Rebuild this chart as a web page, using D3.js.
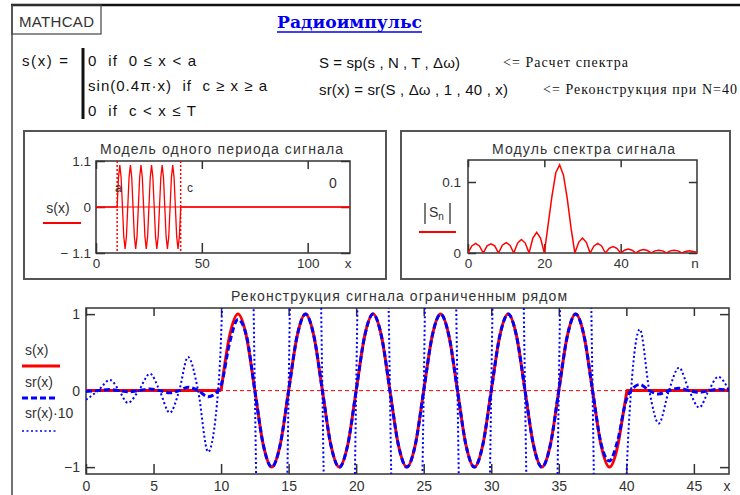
<!DOCTYPE html>
<html>
<head>
<meta charset="utf-8">
<script src="https://cdn.jsdelivr.net/npm/d3@7"></script>
<style>
  body { margin: 0; background: #fff; }
  text { font-family: "Liberation Sans", Arial, sans-serif; fill: #333; white-space: pre; }
</style>
</head>
<body>
<div id="chart"></div>
<script>
// ---- data ----
// s(x): flat lead, sampled pulse (x = 10 .. 39.375), tail
const sLeadX = [0, 10];
const sLeadY = [0, 0];
const pulseX = [10, 10.625, 11.25, 11.875, 12.5, 13.125, 13.75, 14.375,
  15, 15.625, 16.25, 16.875, 17.5, 18.125, 18.75, 19.375,
  20, 20.625, 21.25, 21.875, 22.5, 23.125, 23.75, 24.375,
  25, 25.625, 26.25, 26.875, 27.5, 28.125, 28.75, 29.375,
  30, 30.625, 31.25, 31.875, 32.5, 33.125, 33.75, 34.375,
  35, 35.625, 36.25, 36.875, 37.5, 38.125, 38.75, 39.375];
const sPulse = [0, 0.71, 1, 0.71, 0, -0.71, -1, -0.71,
  0, 0.71, 1, 0.71, 0, -0.71, -1, -0.71,
  0, 0.71, 1, 0.71, 0, -0.71, -1, -0.71,
  0, 0.71, 1, 0.71, 0, -0.71, -1, -0.71,
  0, 0.71, 1, 0.71, 0, -0.71, -1, -0.71,
  0, 0.71, 1, 0.71, 0, -0.71, -1, -0.71];
const sTailX = [39.375, 39.7, 40.05, 120];
const sTailY = [-0.71, -0.37, 0, 0];

// sr(x): reconstruction with N = 40
const srLeftX = [0, 0.9, 1.78, 2.45, 3.1, 3.9, 4.74, 5.45, 6.2, 6.9, 7.55, 8.3, 9.04, 9.78];
const srLeftY = [-0.012, 0, 0.014, 0, -0.016, 0, 0.022, 0, -0.029, 0, 0.044, 0, -0.08, 0];
const srPulse = [0.07, 0.62, 0.93, 0.72, 0, -0.71, -1, -0.71,
  0, 0.71, 1, 0.71, 0, -0.71, -1, -0.71,
  0, 0.71, 1, 0.71, 0, -0.71, -1, -0.71,
  0, 0.71, 1, 0.71, 0, -0.71, -1, -0.71,
  0, 0.71, 1, 0.71, 0, -0.71, -1, -0.71,
  0, 0.71, 1, 0.71, 0, -0.69, -0.92, -0.64];
const srRightX = [40.0, 40.35, 41.0, 41.7, 42.4, 43.15, 43.9, 44.65, 45.4, 46.1, 46.8, 47.6];
const srRightY = [-0.12, 0, 0.08, 0, -0.043, 0, 0.03, 0, -0.022, 0, 0.018, 0];
const srScale = 10;

// |S_n|, n = 0..60
const specN = d3.range(0, 61);
const specVal = [0,
  0.010, 0.0135, 0.010, 0,
  0.010, 0.013, 0.010, 0,
  0.011, 0.0145, 0.011, 0,
  0.014, 0.019, 0.014, 0,
  0.021, 0.029, 0.021, 0,
  0.040, 0.080, 0.113, 0.124, 0.110, 0.077, 0.035, 0,
  0.015, 0.021, 0.015, 0,
  0.010, 0.0135, 0.010, 0,
  0.0065, 0.009, 0.0065, 0,
  0.004, 0.0055, 0.004, 0,
  0.0035, 0.005, 0.0035, 0,
  0.003, 0.004, 0.003, 0,
  0.003, 0.004, 0.003, 0,
  0.002, 0.003, 0.002, 0.001];

// markers
const markA = 10, markC = 40;

// ticks
const modelXTicks = [0, 50, 100];
const modelYTicks = [-1.1, 0, 1.1];
const specXTicks = [0, 20, 40];
const specYTicks = [0, 0.1];
const recXTicks = [0, 5, 10, 15, 20, 25, 30, 35, 40, 45];
const recYTicks = [-1, 0, 1];

// ---- drawing ----
const svg = d3.select("#chart").append("svg")
  .attr("width", 740).attr("height", 495);

const zip = (xs, ys) => xs.map((x, i) => [x, ys[i]]);

// page frame
svg.append("line").attr("x1", 11).attr("x2", 740).attr("y1", 5).attr("y2", 5)
  .attr("stroke", "#111").attr("stroke-width", 2.5);
svg.append("line").attr("x1", 12).attr("x2", 12).attr("y1", 5).attr("y2", 495)
  .attr("stroke", "#444").attr("stroke-width", 1.5);
svg.append("rect").attr("x", 12).attr("y", 5).attr("width", 89).attr("height", 29)
  .attr("fill", "none").attr("stroke", "#444").attr("stroke-width", 1.2);
svg.append("text").attr("x", 19).attr("y", 27).attr("font-size", 15)
  .attr("textLength", 75).attr("fill", "#222").text("MATHCAD");

// title
svg.append("text").attr("x", 277).attr("y", 28)
  .style("font-family", "'DejaVu Serif', 'Liberation Serif', serif")
  .attr("font-weight", "bold").attr("font-size", 17).style("fill", "#0000ee")
  .attr("textLength", 145).attr("lengthAdjust", "spacingAndGlyphs").text("Радиоимпульс");
svg.append("line").attr("x1", 277).attr("x2", 422).attr("y1", 32).attr("y2", 32)
  .attr("stroke", "#0000ee").attr("stroke-width", 1.5);

// formulas
const formula = (x, y, t, len, serif) => {
  const el = svg.append("text").attr("x", x).attr("y", y).style("fill", "#111")
    .attr("font-size", serif ? 14 : 15).attr("textLength", len).text(t);
  if (serif) el.style("font-family", "'Liberation Serif', 'Times New Roman', serif");
  return el;
};
formula(22, 66, "s(x) =", 46);
svg.append("line").attr("x1", 83).attr("x2", 83).attr("y1", 48).attr("y2", 119)
  .attr("stroke", "#111").attr("stroke-width", 3);
formula(88, 66, "0  if  0 ≤ x < a", 108);
formula(88, 91, "sin(0.4π·x)  if  c ≥ x ≥ a", 179);
formula(88, 116, "0  if  c < x ≤ T", 108);
formula(319, 68, "S = sp(s , N , T , Δω)", 141);
formula(319, 95, "sr(x) = sr(S , Δω , 1 , 40 , x)", 189);
formula(503, 67, "<= Расчет спектра", 125, true);
formula(543, 94, "<= Реконструкция при N=40", 194, true);

// region boxes
[[24, 131, 362, 148], [401, 131, 329, 148]].forEach(b => {
  svg.append("rect").attr("x", b[0]).attr("y", b[1]).attr("width", b[2]).attr("height", b[3])
    .attr("fill", "none").attr("stroke", "#555").attr("stroke-width", 2);
});

let clipId = 0;
function drawFrame(x, y, o) {
  const [x0, x1] = x.range();
  const [y0, y1] = y.range();
  const styleAxis = g => {
    g.select(".domain").remove();
    g.selectAll("line").attr("stroke", "#333").attr("stroke-width", 1.5);
    g.selectAll("text").attr("font-size", o.fs).attr("fill", "#333")
      .style("font-family", "'Liberation Sans', Arial, sans-serif");
  };
  svg.append("g").attr("transform", `translate(0,${y0})`)
    .call(d3.axisBottom(x).tickValues(o.xTicks).tickSizeInner(-o.tick).tickSizeOuter(0)
      .tickPadding(o.xPad).tickFormat(o.xFmt))
    .call(styleAxis);
  svg.append("g").attr("transform", `translate(0,${y1})`)
    .call(d3.axisTop(x).tickValues(o.xTicks).tickSizeInner(-o.tick * 0.8).tickSizeOuter(0).tickFormat(""))
    .call(styleAxis);
  svg.append("g").attr("transform", `translate(${x0},0)`)
    .call(d3.axisLeft(y).tickValues(o.yTicks).tickSizeInner(-o.tick * 0.9).tickSizeOuter(0)
      .tickPadding(o.yPad).tickFormat(o.yFmt))
    .call(styleAxis);
  svg.append("g").attr("transform", `translate(${x1},0)`)
    .call(d3.axisRight(y).tickValues(o.yTicks).tickSizeInner(-o.tick * 0.9).tickSizeOuter(0).tickFormat(""))
    .call(styleAxis);
  svg.append("rect").attr("x", x0).attr("y", y1).attr("width", x1 - x0).attr("height", y0 - y1)
    .attr("fill", "none").attr("stroke", "#333").attr("stroke-width", 1.5);
  svg.append("text").attr("x", x1 - 2).attr("y", y0 + o.xPad + 10).attr("text-anchor", "middle")
    .attr("font-size", o.fs).text(o.xName);
  const id = "clip" + (clipId++);
  svg.append("clipPath").attr("id", id).append("rect")
    .attr("x", x0).attr("y", y1).attr("width", x1 - x0).attr("height", y0 - y1);
  return svg.append("g").attr("clip-path", `url(#${id})`);
}

// --- plot 1: model of one period ---
const x1s = d3.scaleLinear().domain([0, 120]).range([96, 350]);
const y1s = d3.scaleLinear().domain([-1.1, 1.1]).range([253, 161]);
svg.append("text").attr("x", 100).attr("y", 154).attr("font-size", 14)
  .attr("textLength", 243).text("Модель одного периода сигнала");
const g1 = drawFrame(x1s, y1s, {
  xTicks: modelXTicks, yTicks: modelYTicks, tick: 10, xPad: 5, yPad: 5, xName: "x", fs: 13.5,
  xFmt: d3.format(""), yFmt: d => d < 0 ? "− " + Math.abs(d) : String(d)
});
g1.append("line").attr("x1", x1s(0)).attr("x2", x1s(120)).attr("y1", y1s(0)).attr("y2", y1s(0))
  .attr("stroke", "#ff0000").attr("stroke-width", 1.2);
[markA, markC].forEach(m => {
  g1.append("line").attr("x1", x1s(m)).attr("x2", x1s(m)).attr("y1", y1s(1.1)).attr("y2", y1s(-1.1))
    .attr("stroke", "#ff0000").attr("stroke-width", 1.5).attr("stroke-dasharray", "2,2");
});
const line1 = d3.line().x(d => x1s(d[0])).y(d => y1s(d[1]));
g1.append("path")
  .datum(zip(sLeadX, sLeadY).concat(zip(pulseX, sPulse), zip(sTailX, sTailY)))
  .attr("d", line1).attr("fill", "none").attr("stroke", "#ff0000").attr("stroke-width", 1.3);
svg.append("text").attr("x", 115).attr("y", 192).attr("font-size", 12).text("a");
svg.append("text").attr("x", 187).attr("y", 192).attr("font-size", 12).text("c");
svg.append("text").attr("x", 333).attr("y", 188).attr("font-size", 14).attr("text-anchor", "middle").text("0");
svg.append("text").attr("x", 58).attr("y", 213).attr("font-size", 14).attr("text-anchor", "middle").text("s(x)");
svg.append("line").attr("x1", 43).attr("x2", 81).attr("y1", 223).attr("y2", 223)
  .attr("stroke", "#ff0000").attr("stroke-width", 2);

// --- plot 2: spectrum modulus ---
const x2s = d3.scaleLinear().domain([0, 60]).range([468, 697]);
const y2s = d3.scaleLinear().domain([0, 0.131]).range([253, 160]);
svg.append("text").attr("x", 492).attr("y", 154).attr("font-size", 14)
  .attr("textLength", 183).text("Модуль спектра сигнала");
const g2 = drawFrame(x2s, y2s, {
  xTicks: specXTicks, yTicks: specYTicks, tick: 9, xPad: 5, yPad: 7, xName: "n", fs: 13.5,
  xFmt: d3.format(""), yFmt: d => String(d)
});
g2.append("path").datum(specN.map((n, i) => [n, specVal[i]]))
  .attr("d", d3.line().x(d => x2s(d[0])).y(d => y2s(d[1])))
  .attr("fill", "none").attr("stroke", "#ff0000").attr("stroke-width", 1.5);
// |S_n| legend
svg.append("line").attr("x1", 425).attr("x2", 425).attr("y1", 203).attr("y2", 224)
  .attr("stroke", "#333").attr("stroke-width", 1.3);
svg.append("line").attr("x1", 450).attr("x2", 450).attr("y1", 203).attr("y2", 224)
  .attr("stroke", "#333").attr("stroke-width", 1.3);
const sn = svg.append("text").attr("x", 429).attr("y", 217).attr("font-size", 14);
sn.append("tspan").text("S");
sn.append("tspan").attr("font-size", 10).attr("dy", 3).text("n");
svg.append("line").attr("x1", 419).attr("x2", 456).attr("y1", 232).attr("y2", 232)
  .attr("stroke", "#ff0000").attr("stroke-width", 2);

// --- plot 3: reconstruction ---
const x3s = d3.scaleLinear().domain([0, 47.6]).range([86, 729]);
const y3s = d3.scaleLinear().domain([-1.09, 1.08]).range([474, 308]);
svg.append("text").attr("x", 231).attr("y", 301).attr("font-size", 14)
  .attr("textLength", 336).text("Реконструкция сигнала ограниченным рядом");
const g3 = drawFrame(x3s, y3s, {
  xTicks: recXTicks, yTicks: recYTicks, tick: 10, xPad: 7, yPad: 6, xName: "x", fs: 14,
  xFmt: d3.format(""), yFmt: d3.format("")
});
g3.append("line").attr("x1", x3s(0)).attr("x2", x3s(47.6)).attr("y1", y3s(0)).attr("y2", y3s(0))
  .attr("stroke", "#ff0000").attr("stroke-width", 1).attr("stroke-dasharray", "4,3");

const lin3 = d3.line().x(d => x3s(d[0])).y(d => y3s(d[1]));
const smooth3 = d3.line().curve(d3.curveMonotoneX).x(d => x3s(d[0])).y(d => y3s(d[1]));

// s(x), thick red
const sRed = { fill: "none", stroke: "#ff0000", "stroke-width": 3, "stroke-linejoin": "round" };
[[zip(sLeadX, sLeadY), lin3], [zip(pulseX, sPulse).concat([[39.7, -0.37]]), smooth3],
 [zip(sTailX, sTailY).slice(1), lin3]].forEach(([pts, gen]) => {
  const p = g3.append("path").datum(pts).attr("d", gen);
  Object.entries(sRed).forEach(([k, v]) => p.attr(k, v));
});

// sr(x), dashed blue
const srPts = zip(srLeftX, srLeftY).concat(zip(pulseX, srPulse), zip(srRightX, srRightY));
g3.append("path").datum(srPts).attr("d", smooth3)
  .attr("fill", "none").attr("stroke", "#0000ff").attr("stroke-width", 3)
  .attr("stroke-dasharray", "6,3");

// sr(x)*10, dotted blue
g3.append("path").datum(srPts.map(d => [d[0], d[1] * srScale])).attr("d", smooth3)
  .attr("fill", "none").attr("stroke", "#0000ff").attr("stroke-width", 2)
  .attr("stroke-dasharray", "2,2.5");

// legend
svg.append("text").attr("x", 25).attr("y", 355).attr("font-size", 14).text("s(x)");
svg.append("line").attr("x1", 22).attr("x2", 60).attr("y1", 366).attr("y2", 366)
  .attr("stroke", "#ff0000").attr("stroke-width", 3);
svg.append("text").attr("x", 25).attr("y", 387).attr("font-size", 14).text("sr(x)");
svg.append("line").attr("x1", 22).attr("x2", 58).attr("y1", 398).attr("y2", 398)
  .attr("stroke", "#0000ff").attr("stroke-width", 3).attr("stroke-dasharray", "6,3");
svg.append("text").attr("x", 25).attr("y", 418).attr("font-size", 14).text("sr(x)·10");
svg.append("line").attr("x1", 22).attr("x2", 58).attr("y1", 431).attr("y2", 431)
  .attr("stroke", "#0000ff").attr("stroke-width", 1.5).attr("stroke-dasharray", "2,2.5");
</script>
</body>
</html>
